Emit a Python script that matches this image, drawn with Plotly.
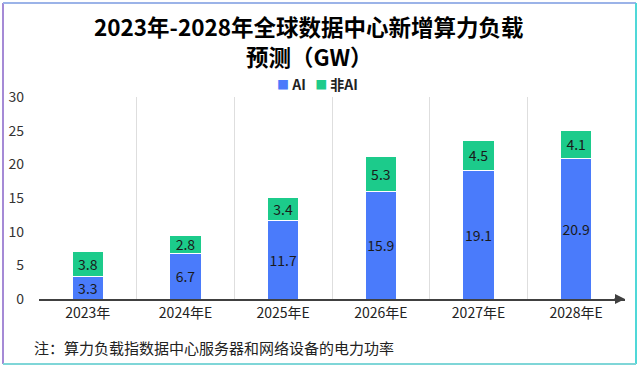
import plotly.graph_objects as go

categories = ["2023年", "2024年E", "2025年E", "2026年E", "2027年E", "2028年E"]
ai_values = [3.3, 6.7, 11.7, 15.9, 19.1, 20.9]
non_ai_values = [3.8, 2.8, 3.4, 5.3, 4.5, 4.1]
y_ticks = [0, 5, 10, 15, 20, 25, 30]

title_line1 = "2023年-2028年全球数据中心新增算力负载"
title_line2 = "预测（GW）"
note_text = "注：算力负载指数据中心服务器和网络设备的电力功率"

FONT = "Noto Sans CJK SC, Microsoft YaHei, sans-serif"
BLUE = "#4a7bfb"
GREEN = "#1ccb8b"

W, H = 640, 368
ML, MR, MT, MB = 39, 15, 97, 69

fig = go.Figure()
fig.add_trace(go.Bar(
    x=categories, y=ai_values, name="AI",
    marker=dict(color=BLUE, line=dict(color="white", width=1)),
    text=[f"{v}" for v in ai_values], textposition="inside", textangle=0,
    insidetextanchor="middle", constraintext="none",
    textfont=dict(size=14, color="#1a1a1a", family=FONT),
))
fig.add_trace(go.Bar(
    x=categories, y=non_ai_values, name="非AI",
    marker=dict(color=GREEN, line=dict(color="white", width=1)),
    text=[f"{v}" for v in non_ai_values], textposition="inside", textangle=0,
    insidetextanchor="middle", constraintext="none",
    textfont=dict(size=14, color="#1a1a1a", family=FONT),
))

fig.update_layout(
    width=W, height=H,
    barmode="stack", bargap=0.68,
    paper_bgcolor="white", plot_bgcolor="white",
    margin=dict(l=ML, r=MR, t=MT, b=MB, autoexpand=False),
    font=dict(family=FONT, color="#333333"),
    showlegend=False,
)
fig.update_xaxes(
    type="category", tickson="boundaries", showgrid=True, gridcolor="#dedede", gridwidth=1,
    showline=True, linecolor="#404040", linewidth=2, ticks="",
    tickfont=dict(size=14, color="#222222", family=FONT),
)
fig.update_yaxes(
    range=[0, 30], tickvals=y_ticks, showgrid=False, zeroline=False, showline=False,
    tickfont=dict(size=14, color="#333333", family=FONT), ticklabelstandoff=14,
)

px = lambda v: (v - ML) / (W - ML - MR)
py = lambda v: (H - MB - v) / (H - MT - MB)

# title (two lines)
for txt, yy in [(title_line1, 26), (title_line2, 56)]:
    fig.add_annotation(x=px(309), y=py(yy), xref="paper", yref="paper",
                       xanchor="center", yanchor="middle", showarrow=False,
                       text=f"<b>{txt}</b>",
                       font=dict(size=22.5, color="#000000", family=FONT))

# legend (compact, like the reference)
legend_text = (f"<span style='color:{BLUE};font-size:12px'>■</span> <b>AI</b>   "
               f"<span style='color:{GREEN};font-size:12px'>■</span> <b>非AI</b>")
fig.add_annotation(x=px(317), y=py(84), xref="paper", yref="paper",
                   xanchor="center", yanchor="middle", showarrow=False,
                   text=legend_text, font=dict(size=14, color="#222222", family=FONT))

# arrow at end of x axis
fig.add_annotation(x=1.0, y=0, xref="paper", yref="paper", ax=-12, ay=0,
                   axref="pixel", ayref="pixel", showarrow=True, arrowhead=2,
                   arrowsize=1, arrowwidth=2, arrowcolor="#404040", text="")

# note
fig.add_annotation(x=px(32), y=py(347), xref="paper", yref="paper",
                   xanchor="left", yanchor="middle", showarrow=False,
                   text=note_text, font=dict(size=15, color="#222222", family=FONT))

# border with colored edges
def paper_line(x0, y0, x1, y1, color, w=2):
    fig.add_shape(type="line", xref="paper", yref="paper",
                  x0=x0, y0=y0, x1=x1, y1=y1, line=dict(color=color, width=w))

L, R, T, B = px(3), px(636), py(3), py(364)
paper_line(L, B, L, T, "#a58ad6")
paper_line(L, T, R, T, "#9bb3e8")
paper_line(R, T, R, B, "#4fd8d8")
paper_line(L, B, R, B, "#7fd6d8")

fig.write_html("out.html", config={"displayModeBar": False},
               post_script="document.body.style.margin='0';document.body.style.padding='0';")
